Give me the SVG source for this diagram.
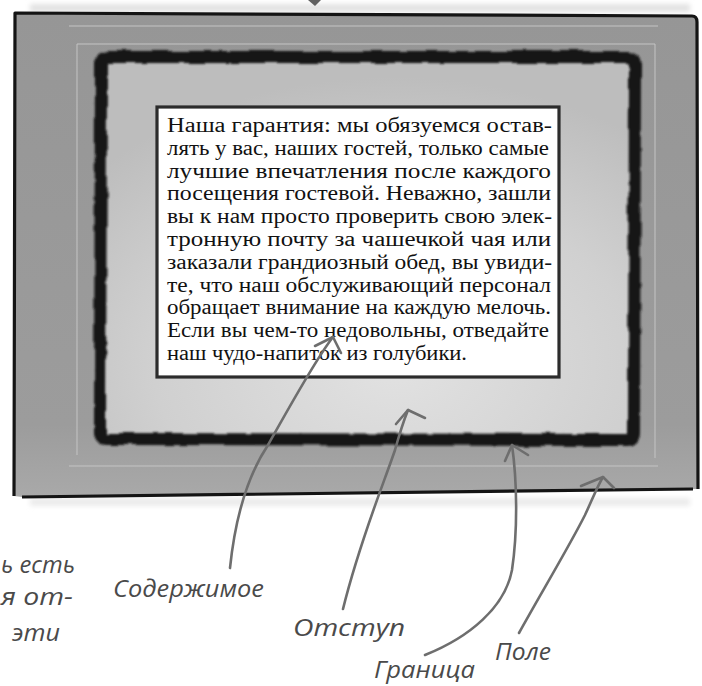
<svg xmlns="http://www.w3.org/2000/svg" width="702" height="686" viewBox="0 0 702 686">
<defs>
<style>
.body{font-family:"Liberation Serif","Times New Roman",serif;font-size:20px;fill:#111}
.hand{font-family:"Open Sans","DejaVu Sans",sans-serif;font-style:italic;font-weight:400;font-size:24px;fill:#4a4a4a}
.thin{stroke:#c4c4c4;stroke-width:1;fill:none}
.conn{stroke:#6e6e6e;stroke-width:2.6;fill:none;stroke-linecap:round;stroke-linejoin:round}
</style>
<linearGradient id="outerG" x1="0" y1="0" x2="0" y2="1">
<stop offset="0" stop-color="#969696"/>
<stop offset="0.85" stop-color="#9c9c9c"/>
<stop offset="1" stop-color="#a9a9a9"/>
</linearGradient>
<radialGradient id="padG" cx="0.55" cy="0.8" r="0.75">
<stop offset="0" stop-color="#e2e2e2"/>
<stop offset="0.6" stop-color="#d0d0d0"/>
<stop offset="1" stop-color="#bdbdbd"/>
</radialGradient>
<filter id="rough" x="-5%" y="-5%" width="110%" height="110%">
<feTurbulence type="fractalNoise" baseFrequency="0.05" numOctaves="2" seed="4" result="n"/>
<feDisplacementMap in="SourceGraphic" in2="n" scale="5" xChannelSelector="R" yChannelSelector="G"/>
<feGaussianBlur stdDeviation="1.3"/>
</filter>
<filter id="soft" x="-5%" y="-50%" width="110%" height="200%">
<feGaussianBlur stdDeviation="2.5"/>
</filter>
</defs>

<g id="smudge" filter="url(#soft)">
<rect x="30" y="4" width="660" height="8" fill="#e2e2e2"/>
<rect x="30" y="498" width="660" height="8" fill="#ebebeb"/>
</g>
<path d="M308,0 L321,0 L315,6 Z" fill="#606060"/>

<g id="margin-box">
<path d="M15,13 L692,16 Q697,16 697,22 L698,489 L22,497 L14,496 Z" fill="url(#outerG)"/>
<path d="M14,496 L15,13 L692,16 Q697,16 697,22 L698,489 M693,489 L22,497" fill="none" stroke="#141414" stroke-width="3.2" stroke-linejoin="round"/>
<line class="thin" x1="69" y1="26" x2="658" y2="26"/>
<line class="thin" x1="69" y1="466" x2="658" y2="466"/>
<path class="thin" d="M77,455 L77,44 L655,44 L655,458"/>
</g>

<g id="border-box">
<rect x="100" y="58" width="534" height="381" fill="url(#padG)"/>
<path d="M101,63 Q102,57 108,57 L628,57 Q635,58 635,65 L634,433 Q634,440 627,440 L107,439 Q100,439 100,432 Z" fill="none" stroke="#161616" stroke-width="12" filter="url(#rough)"/>
</g>

<g id="content-box">
<rect x="157" y="107" width="402" height="270" fill="#ffffff" stroke="#2c2c2c" stroke-width="3.2"/>
<text class="body" x="167" y="132" textLength="385" lengthAdjust="spacingAndGlyphs">Наша гарантия: мы обязуемся остав-</text>
<text class="body" x="167" y="154.8" textLength="382" lengthAdjust="spacingAndGlyphs">лять у вас, наших гостей, только самые</text>
<text class="body" x="167" y="177.6" textLength="384" lengthAdjust="spacingAndGlyphs">лучшие впечатления после каждого</text>
<text class="body" x="167" y="200.4" textLength="384" lengthAdjust="spacingAndGlyphs">посещения гостевой. Неважно, зашли</text>
<text class="body" x="167" y="223.2" textLength="385" lengthAdjust="spacingAndGlyphs">вы к нам просто проверить свою элек-</text>
<text class="body" x="167" y="246" textLength="384" lengthAdjust="spacingAndGlyphs">тронную почту за чашечкой чая или</text>
<text class="body" x="167" y="268.8" textLength="385" lengthAdjust="spacingAndGlyphs">заказали грандиозный обед, вы увиди-</text>
<text class="body" x="167" y="291.6" textLength="384" lengthAdjust="spacingAndGlyphs">те, что наш обслуживающий персонал</text>
<text class="body" x="167" y="314.4" textLength="384" lengthAdjust="spacingAndGlyphs">обращает внимание на каждую мелочь.</text>
<text class="body" x="167" y="337.2" textLength="382" lengthAdjust="spacingAndGlyphs">Если вы чем-то недовольны, отведайте</text>
<text class="body" x="167" y="360" textLength="300" lengthAdjust="spacingAndGlyphs">наш чудо-напиток из голубики.</text>
</g>

<g id="note-fragment">
<text class="hand" x="1" y="573" textLength="74" lengthAdjust="spacingAndGlyphs">ь есть</text>
<text class="hand" x="1" y="605" textLength="72" lengthAdjust="spacingAndGlyphs">я от-</text>
<text class="hand" x="12" y="641" textLength="48" lengthAdjust="spacingAndGlyphs">эти</text>
</g>
<g id="label-content"><text class="hand" x="113" y="597" textLength="151" lengthAdjust="spacingAndGlyphs">Содержимое</text></g>
<g id="label-padding"><text class="hand" x="293" y="636" textLength="112" lengthAdjust="spacingAndGlyphs">Отступ</text></g>
<g id="label-border"><text class="hand" x="374" y="678" textLength="101" lengthAdjust="spacingAndGlyphs">Граница</text></g>
<g id="label-margin"><text class="hand" x="495" y="660" textLength="56" lengthAdjust="spacingAndGlyphs">Поле</text></g>

<g id="connectors">
<path class="conn" d="M230,568 C236,510 250,472 268,445 C285,415 315,360 333,337"/>
<path class="conn" d="M315,346 L333,337 L341,353"/>
<path class="conn" d="M343,609 C360,540 385,480 395,450 C400,432 404,420 408,410"/>
<path class="conn" d="M396,424 L408,410 L425,418"/>
<path class="conn" d="M425,655 C470,637 505,607 512,570 C518,530 517,480 512,445"/>
<path class="conn" d="M505,461 L512,445 L528,455"/>
<path class="conn" d="M519,633 C540,595 570,545 585,515 C592,500 598,485 603,477"/>
<path class="conn" d="M581,486 L603,477 L614,488"/>
</g>
</svg>
